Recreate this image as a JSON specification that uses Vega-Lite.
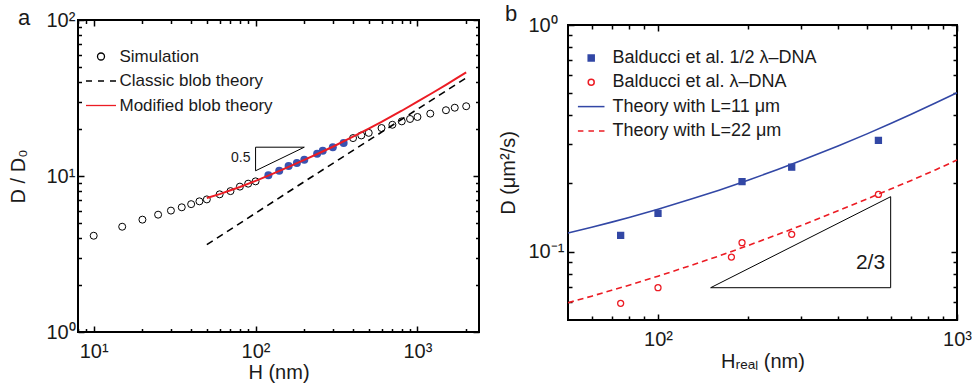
{
"$schema": "https://vega.github.io/schema/vega-lite/v6.json",
"autosize": {"type": "none"},
"padding": {"left": 78, "top": 20, "right": 894, "bottom": 369},
"background": "white",
"bounds": "flush",
"spacing": 89,
"resolve": {"scale": {"color": "independent", "shape": "independent", "fill": "independent", "stroke": "independent"}, "legend": {"color": "independent", "shape": "independent", "fill": "independent", "stroke": "independent"}},
"config": {
  "font": "Liberation Sans",
  "view": {"stroke": "black", "strokeWidth": 2},
  "axis": {"domain": false, "grid": false, "tickColor": "black", "tickWidth": 1.5, "labelFontSize": 20, "labelColor": "#1a1a1a", "labelFont": "Liberation Sans", "titleFont": "Liberation Sans", "titleFontSize": 20, "titleFontWeight": "normal", "titleColor": "#1a1a1a", "labelFlush": false, "labelOverlap": false, "labelBound": false},
  "legend": {"labelFont": "Liberation Sans", "labelColor": "#1a1a1a", "labelLimit": 400}
},
"datasets": {
  "sim": [
    {"H": 10, "D": 4.14, "kind": "open", "series": "Simulation"},
    {"H": 15, "D": 4.73, "kind": "open", "series": "Simulation"},
    {"H": 20, "D": 5.25, "kind": "open", "series": "Simulation"},
    {"H": 25, "D": 5.65, "kind": "open", "series": "Simulation"},
    {"H": 30, "D": 6.0, "kind": "open", "series": "Simulation"},
    {"H": 35, "D": 6.3, "kind": "open", "series": "Simulation"},
    {"H": 40, "D": 6.6, "kind": "open", "series": "Simulation"},
    {"H": 45, "D": 6.88, "kind": "open", "series": "Simulation"},
    {"H": 50, "D": 7.08, "kind": "open", "series": "Simulation"},
    {"H": 60, "D": 7.63, "kind": "open", "series": "Simulation"},
    {"H": 70, "D": 8.0, "kind": "open", "series": "Simulation"},
    {"H": 80, "D": 8.55, "kind": "open", "series": "Simulation"},
    {"H": 90, "D": 8.93, "kind": "open", "series": "Simulation"},
    {"H": 100, "D": 9.24, "kind": "open", "series": "Simulation"},
    {"H": 120, "D": 10.1, "kind": "blue", "series": "Simulation"},
    {"H": 140, "D": 10.8, "kind": "blue", "series": "Simulation"},
    {"H": 160, "D": 11.6, "kind": "blue", "series": "Simulation"},
    {"H": 180, "D": 12.1, "kind": "blue", "series": "Simulation"},
    {"H": 200, "D": 12.7, "kind": "blue", "series": "Simulation"},
    {"H": 240, "D": 13.9, "kind": "blue", "series": "Simulation"},
    {"H": 260, "D": 14.5, "kind": "blue", "series": "Simulation"},
    {"H": 300, "D": 15.3, "kind": "blue", "series": "Simulation"},
    {"H": 350, "D": 16.3, "kind": "blue", "series": "Simulation"},
    {"H": 400, "D": 17.5, "kind": "open", "series": "Simulation"},
    {"H": 450, "D": 18.2, "kind": "open", "series": "Simulation"},
    {"H": 500, "D": 18.9, "kind": "open", "series": "Simulation"},
    {"H": 600, "D": 20.3, "kind": "open", "series": "Simulation"},
    {"H": 700, "D": 21.3, "kind": "open", "series": "Simulation"},
    {"H": 800, "D": 22.4, "kind": "open", "series": "Simulation"},
    {"H": 900, "D": 23.2, "kind": "open", "series": "Simulation"},
    {"H": 1000, "D": 23.9, "kind": "open", "series": "Simulation"},
    {"H": 1200, "D": 25.1, "kind": "open", "series": "Simulation"},
    {"H": 1500, "D": 26.4, "kind": "open", "series": "Simulation"},
    {"H": 1700, "D": 27.4, "kind": "open", "series": "Simulation"},
    {"H": 2000, "D": 28.0, "kind": "open", "series": "Simulation"}
  ],
  "curvesA": [
    {"H": 50, "D": 3.63, "series": "Classic blob theory"},
    {"H": 200, "D": 9.2, "series": "Classic blob theory"},
    {"H": 2000, "D": 42.5, "series": "Classic blob theory"},
    {"H": 50, "D": 7.23, "series": "Modified blob theory"},
    {"H": 60, "D": 7.65, "series": "Modified blob theory"},
    {"H": 70, "D": 8.1, "series": "Modified blob theory"},
    {"H": 80, "D": 8.5, "series": "Modified blob theory"},
    {"H": 100, "D": 9.3, "series": "Modified blob theory"},
    {"H": 120, "D": 10.05, "series": "Modified blob theory"},
    {"H": 150, "D": 11.1, "series": "Modified blob theory"},
    {"H": 200, "D": 12.7, "series": "Modified blob theory"},
    {"H": 250, "D": 14.1, "series": "Modified blob theory"},
    {"H": 300, "D": 15.4, "series": "Modified blob theory"},
    {"H": 400, "D": 17.9, "series": "Modified blob theory"},
    {"H": 500, "D": 20.1, "series": "Modified blob theory"},
    {"H": 600, "D": 22.2, "series": "Modified blob theory"},
    {"H": 800, "D": 26.2, "series": "Modified blob theory"},
    {"H": 1000, "D": 30.0, "series": "Modified blob theory"},
    {"H": 1250, "D": 34.3, "series": "Modified blob theory"},
    {"H": 1500, "D": 38.4, "series": "Modified blob theory"},
    {"H": 1750, "D": 42.4, "series": "Modified blob theory"},
    {"H": 2000, "D": 46.2, "series": "Modified blob theory"}
  ],
  "triA": [
    {"H": 100, "D": 15.3, "i": 0},
    {"H": 200, "D": 15.3, "i": 1},
    {"H": 100, "D": 10.8, "i": 2},
    {"H": 100, "D": 15.3, "i": 3}
  ],
  "labelA": [{"H": 93, "D": 13.0, "label": "0.5"}],
  "expB": [
    {"H": 75, "D": 0.118, "series": "Balducci et al. 1/2 λ–DNA"},
    {"H": 100, "D": 0.1476, "series": "Balducci et al. 1/2 λ–DNA"},
    {"H": 191, "D": 0.204, "series": "Balducci et al. 1/2 λ–DNA"},
    {"H": 280, "D": 0.236, "series": "Balducci et al. 1/2 λ–DNA"},
    {"H": 546, "D": 0.31, "series": "Balducci et al. 1/2 λ–DNA"},
    {"H": 75, "D": 0.0592, "series": "Balducci et al. λ–DNA"},
    {"H": 100, "D": 0.0694, "series": "Balducci et al. λ–DNA"},
    {"H": 176, "D": 0.0947, "series": "Balducci et al. λ–DNA"},
    {"H": 191, "D": 0.1096, "series": "Balducci et al. λ–DNA"},
    {"H": 280, "D": 0.1193, "series": "Balducci et al. λ–DNA"},
    {"H": 546, "D": 0.179, "series": "Balducci et al. λ–DNA"}
  ],
  "curvesB": [
    {"H": 50, "D": 0.121, "series": "Theory with L=11 μm"},
    {"H": 60, "D": 0.1283, "series": "Theory with L=11 μm"},
    {"H": 70, "D": 0.1351, "series": "Theory with L=11 μm"},
    {"H": 80, "D": 0.1416, "series": "Theory with L=11 μm"},
    {"H": 100, "D": 0.154, "series": "Theory with L=11 μm"},
    {"H": 130, "D": 0.1711, "series": "Theory with L=11 μm"},
    {"H": 160, "D": 0.1869, "series": "Theory with L=11 μm"},
    {"H": 200, "D": 0.2067, "series": "Theory with L=11 μm"},
    {"H": 250, "D": 0.2298, "series": "Theory with L=11 μm"},
    {"H": 300, "D": 0.2517, "series": "Theory with L=11 μm"},
    {"H": 400, "D": 0.2926, "series": "Theory with L=11 μm"},
    {"H": 500, "D": 0.331, "series": "Theory with L=11 μm"},
    {"H": 600, "D": 0.3675, "series": "Theory with L=11 μm"},
    {"H": 700, "D": 0.4029, "series": "Theory with L=11 μm"},
    {"H": 850, "D": 0.4536, "series": "Theory with L=11 μm"},
    {"H": 1000, "D": 0.503, "series": "Theory with L=11 μm"},
    {"H": 50, "D": 0.0596, "series": "Theory with L=22 μm"},
    {"H": 60, "D": 0.0637, "series": "Theory with L=22 μm"},
    {"H": 70, "D": 0.0676, "series": "Theory with L=22 μm"},
    {"H": 80, "D": 0.0712, "series": "Theory with L=22 μm"},
    {"H": 100, "D": 0.078, "series": "Theory with L=22 μm"},
    {"H": 130, "D": 0.0873, "series": "Theory with L=22 μm"},
    {"H": 160, "D": 0.0958, "series": "Theory with L=22 μm"},
    {"H": 200, "D": 0.1065, "series": "Theory with L=22 μm"},
    {"H": 250, "D": 0.1188, "series": "Theory with L=22 μm"},
    {"H": 300, "D": 0.1302, "series": "Theory with L=22 μm"},
    {"H": 400, "D": 0.1515, "series": "Theory with L=22 μm"},
    {"H": 500, "D": 0.171, "series": "Theory with L=22 μm"},
    {"H": 600, "D": 0.189, "series": "Theory with L=22 μm"},
    {"H": 700, "D": 0.2058, "series": "Theory with L=22 μm"},
    {"H": 850, "D": 0.2301, "series": "Theory with L=22 μm"},
    {"H": 1000, "D": 0.2537, "series": "Theory with L=22 μm"}
  ],
  "triB": [
    {"H": 150, "D": 0.0694, "i": 0},
    {"H": 600, "D": 0.0694, "i": 1},
    {"H": 600, "D": 0.1749, "i": 2},
    {"H": 150, "D": 0.0694, "i": 3}
  ],
  "labelB": [{"H": 575, "D": 0.0891, "label": "2/3"}]
},
"hconcat": [
  {
    "width": 401, "height": 312,
    "title": {"text": "a", "anchor": "start", "frame": "group", "dx": -60, "dy": 26, "offset": -11, "baseline": "alphabetic", "fontSize": 22, "fontWeight": "normal", "color": "#1a1a1a"},
    "resolve": {"axis": {"x": "independent", "y": "independent"}},
    "layer": [
      {
        "data": {"name": "sim"},
        "transform": [{"filter": "datum.kind == 'open'"}],
        "mark": {"type": "point", "filled": false, "size": 49, "strokeWidth": 1, "opacity": 1},
        "encoding": {
          "x": {"field": "H", "type": "quantitative", "scale": {"type": "log", "domain": [8, 2400], "nice": false},
                "axis": {"orient": "bottom", "values": [10, 100, 1000], "tickSize": -6, "labelPadding": 15, "labelDx": 3, "labelExpr": "datum.value == 10 ? '10¹' : datum.value == 100 ? '10²' : '10³'", "title": "H (nm)", "titlePadding": 1}},
          "y": {"field": "D", "type": "quantitative", "scale": {"type": "log", "domain": [1, 100], "nice": false},
                "axis": {"orient": "left", "values": [1, 10, 100], "tickSize": -6, "labelPadding": 38, "labelAlign": "left", "labelBaseline": "middle", "labelExpr": "datum.value == 1 ? '10⁰' : datum.value == 10 ? '10¹' : '10²'", "title": "D / D₀", "titlePadding": 18}},
          "color": {"field": "series", "type": "nominal",
                    "scale": {"domain": ["Simulation", "Classic blob theory", "Modified blob theory"], "range": ["black", "black", "#ec1c24"]},
                    "legend": {"orient": "none", "legendX": 14.5, "legendY": 28, "title": null, "symbolSize": 49, "symbolStrokeWidth": 1.3, "labelFontSize": 17, "labelOffset": 10, "rowPadding": 6.5, "padding": 0}},
          "shape": {"field": "series", "type": "nominal",
                    "scale": {"domain": ["Simulation", "Classic blob theory", "Modified blob theory"], "range": ["circle", "M-4.29,0H-2.57M-0.86,0H0.86M2.57,0H4.29", "M-4.29,0H4.29"]},
                    "legend": {"orient": "none", "legendX": 14.5, "legendY": 28, "title": null, "symbolSize": 49, "symbolStrokeWidth": 1.3, "labelFontSize": 17, "labelOffset": 10, "rowPadding": 6.5, "padding": 0}}
        }
      },
      {
        "data": {"name": "sim"},
        "transform": [{"filter": "datum.kind == 'blue'"}],
        "mark": {"type": "point", "filled": true, "size": 64, "color": "#3a53b0", "opacity": 1},
        "encoding": {
          "x": {"field": "H", "type": "quantitative", "axis": {"orient": "bottom", "values": [8, 9, 20, 30, 40, 50, 60, 70, 80, 90, 200, 300, 400, 500, 600, 700, 800, 900, 2000], "tickSize": -3.5, "labels": false, "title": null}},
          "y": {"field": "D", "type": "quantitative", "axis": {"orient": "left", "values": [2, 3, 4, 5, 6, 7, 8, 9, 20, 30, 40, 50, 60, 70, 80, 90], "tickSize": -3.5, "labels": false, "title": null}}
        }
      },
      {
        "data": {"name": "curvesA"},
        "transform": [{"filter": "datum.series == 'Classic blob theory'"}],
        "mark": {"type": "line", "color": "black", "strokeWidth": 1.6, "strokeDash": [7, 5]},
        "encoding": {
          "x": {"field": "H", "type": "quantitative", "axis": {"orient": "top", "values": [10, 100, 1000], "tickSize": -6, "labels": false, "title": null}},
          "y": {"field": "D", "type": "quantitative", "axis": {"orient": "right", "values": [1, 10, 100], "tickSize": -6, "labels": false, "title": null}}
        }
      },
      {
        "data": {"name": "curvesA"},
        "transform": [{"filter": "datum.series == 'Modified blob theory'"}],
        "mark": {"type": "line", "color": "#ec1c24", "strokeWidth": 2},
        "encoding": {
          "x": {"field": "H", "type": "quantitative", "axis": {"orient": "top", "values": [8, 9, 20, 30, 40, 50, 60, 70, 80, 90, 200, 300, 400, 500, 600, 700, 800, 900, 2000], "tickSize": -3.5, "labels": false, "title": null}},
          "y": {"field": "D", "type": "quantitative", "axis": {"orient": "right", "values": [2, 3, 4, 5, 6, 7, 8, 9, 20, 30, 40, 50, 60, 70, 80, 90], "tickSize": -3.5, "labels": false, "title": null}}
        }
      },
      {
        "data": {"name": "triA"},
        "mark": {"type": "line", "color": "black", "strokeWidth": 1},
        "encoding": {
          "x": {"field": "H", "type": "quantitative", "axis": null},
          "y": {"field": "D", "type": "quantitative", "axis": null},
          "order": {"field": "i", "type": "quantitative"}
        }
      },
      {
        "data": {"name": "labelA"},
        "mark": {"type": "text", "align": "right", "baseline": "middle", "fontSize": 14, "color": "#1a1a1a"},
        "encoding": {
          "x": {"field": "H", "type": "quantitative", "axis": null},
          "y": {"field": "D", "type": "quantitative", "axis": null},
          "text": {"field": "label"}
        }
      }
    ]
  },
  {
    "bounds": "flush",
    "spacing": 0,
    "vconcat": [
      {
        "width": 389, "height": 5,
        "data": {"values": [{"a": 1}]},
        "mark": {"type": "point", "opacity": 0},
        "view": {"stroke": null}
      },
      {
        "width": 389, "height": 295,
        "title": {"text": "b", "anchor": "start", "frame": "group", "dx": -63, "dy": 20, "offset": -8, "baseline": "alphabetic", "fontSize": 22, "fontWeight": "normal", "color": "#1a1a1a"},
        "resolve": {"axis": {"x": "independent", "y": "independent"}},
        "layer": [
          {
            "data": {"name": "curvesB"},
            "transform": [{"filter": "datum.series == 'Theory with L=11 μm'"}],
            "mark": {"type": "line", "color": "#3247a5", "strokeWidth": 1.6},
            "encoding": {
              "x": {"field": "H", "type": "quantitative", "scale": {"type": "log", "domain": [50, 1000], "nice": false},
                    "axis": {"orient": "bottom", "values": [60, 70, 80, 90, 200, 300, 400, 500, 600, 700, 800, 900], "tickSize": -4, "labels": false, "title": null}},
              "y": {"field": "D", "type": "quantitative", "scale": {"type": "log", "domain": [0.05, 1], "nice": false},
                    "axis": {"orient": "left", "values": [0.06, 0.07, 0.08, 0.09, 0.2, 0.3, 0.4, 0.5, 0.6, 0.7, 0.8, 0.9], "tickSize": -4, "labels": false, "title": null}}
            }
          },
          {
            "data": {"name": "curvesB"},
            "transform": [{"filter": "datum.series == 'Theory with L=22 μm'"}],
            "mark": {"type": "line", "color": "#ec1c24", "strokeWidth": 1.6, "strokeDash": [6, 4]},
            "encoding": {
              "x": {"field": "H", "type": "quantitative", "axis": {"orient": "top", "values": [100, 1000], "tickSize": -6, "labels": false, "title": null}},
              "y": {"field": "D", "type": "quantitative", "axis": {"orient": "right", "values": [0.1, 1], "tickSize": -6, "labels": false, "title": null}}
            }
          },
          {
            "data": {"name": "triB"},
            "mark": {"type": "line", "color": "black", "strokeWidth": 1},
            "encoding": {
              "x": {"field": "H", "type": "quantitative", "axis": {"orient": "top", "values": [60, 70, 80, 90, 200, 300, 400, 500, 600, 700, 800, 900], "tickSize": -4, "labels": false, "title": null}},
              "y": {"field": "D", "type": "quantitative", "axis": {"orient": "right", "values": [0.06, 0.07, 0.08, 0.09, 0.2, 0.3, 0.4, 0.5, 0.6, 0.7, 0.8, 0.9], "tickSize": -4, "labels": false, "title": null}},
              "order": {"field": "i", "type": "quantitative"}
            }
          },
          {
            "data": {"name": "labelB"},
            "mark": {"type": "text", "align": "right", "baseline": "middle", "fontSize": 21, "color": "#1a1a1a"},
            "encoding": {
              "x": {"field": "H", "type": "quantitative", "axis": null},
              "y": {"field": "D", "type": "quantitative", "axis": null},
              "text": {"field": "label"}
            }
          },
          {
            "data": {"name": "expB"},
            "mark": {"type": "point", "size": 36, "strokeWidth": 1.3, "opacity": 1},
            "encoding": {
              "x": {"field": "H", "type": "quantitative",
                    "axis": {"orient": "bottom", "values": [100, 1000], "tickSize": -6, "labelPadding": 15, "labelDx": 3, "labelExpr": "datum.value == 100 ? '10²' : '10³'", "title": "Hᵣₑₐₗ (nm)", "titlePadding": 2}},
              "y": {"field": "D", "type": "quantitative",
                    "axis": {"orient": "left", "values": [0.1, 1], "tickSize": -6, "labelPadding": 46, "labelAlign": "left", "labelBaseline": "middle", "labelExpr": "datum.value < 0.5 ? '10⁻¹' : '10⁰'", "title": "D (μm²/s)", "titlePadding": 10}},
              "fill": {"field": "series", "type": "nominal",
                       "scale": {"domain": ["Balducci et al. 1/2 λ–DNA", "Balducci et al. λ–DNA", "Theory with L=11 μm", "Theory with L=22 μm"], "range": ["#3247a5", "transparent", "transparent", "transparent"]},
                       "legend": {"orient": "none", "legendX": 14.2, "legendY": 29, "title": null, "symbolSize": 36, "symbolStrokeWidth": 1.5, "labelFontSize": 18, "labelOffset": 12.2, "rowPadding": 6.3, "padding": 0}},
              "stroke": {"field": "series", "type": "nominal",
                       "scale": {"domain": ["Balducci et al. 1/2 λ–DNA", "Balducci et al. λ–DNA", "Theory with L=11 μm", "Theory with L=22 μm"], "range": ["#3247a5", "#ec1c24", "#3247a5", "#ec1c24"]},
                       "legend": {"orient": "none", "legendX": 14.2, "legendY": 29, "title": null, "symbolSize": 36, "symbolStrokeWidth": 1.5, "labelFontSize": 18, "labelOffset": 12.2, "rowPadding": 6.3, "padding": 0}},
              "shape": {"field": "series", "type": "nominal",
                       "scale": {"domain": ["Balducci et al. 1/2 λ–DNA", "Balducci et al. λ–DNA", "Theory with L=11 μm", "Theory with L=22 μm"], "range": ["square", "circle", "M-4.43,0H4.43", "M-4.43,0H-2.6M-0.92,0H0.92M2.6,0H4.43"]},
                       "legend": {"orient": "none", "legendX": 14.2, "legendY": 29, "title": null, "symbolSize": 36, "symbolStrokeWidth": 1.5, "labelFontSize": 18, "labelOffset": 12.2, "rowPadding": 6.3, "padding": 0}}
            }
          }
        ]
      }
    ]
  }
]
}
